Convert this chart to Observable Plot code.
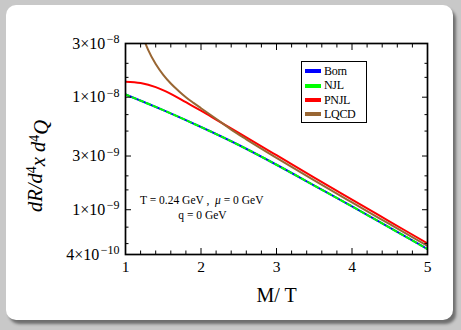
<!DOCTYPE html>
<html>
<head>
<meta charset="utf-8">
<script src="https://cdn.jsdelivr.net/npm/d3@7"></script>
<script src="https://cdn.jsdelivr.net/npm/@observablehq/plot@0.6"></script>
<style>
  body { margin: 0; background: #c8c8c8; }
  #wrap { position: relative; width: 461px; height: 330px; overflow: hidden; }
  #card { position: absolute; left: 6px; top: 5px; width: 447px; height: 315px; background: #fff;
          border-radius: 10px; box-shadow: 3px 4px 3px rgba(0,0,0,0.45); }
  #chart { position: absolute; left: 0; top: 0; }
  #legend { position: absolute; left: 301px; top: 61px; width: 66px; height: 62px; box-sizing: border-box;
            border: 1px solid #000; background: #fff; font-family: "Liberation Serif", serif; font-size: 12px; }
  .li { position: absolute; left: 3px; height: 14px; line-height: 14px; white-space: nowrap; letter-spacing: -0.3px; }
  .sw { display: inline-block; width: 16px; height: 4px; vertical-align: middle; margin-right: 3px; position: relative; top: -1px; }
</style>
</head>
<body>
<div id="wrap">
  <div id="card"></div>
  <div id="chart"></div>
  <div id="legend"></div>
</div>
<script>
// ---- data ----
const seriesNames = ["Born", "NJL", "PNJL", "LQCD"];
const seriesColors = ["#0000ff", "#00ff00", "#ff0000", "#996633"];

const bornM = [1, 1.5, 2, 2.5, 3, 3.5, 4, 4.5, 5];
const bornR = [1.057e-8, 7.67e-9, 5.43e-9, 3.76e-9, 2.51e-9, 1.64e-9, 1.07e-9, 6.92e-10, 4.47e-10];

const njlM = [1, 1.5, 2, 2.5, 3, 3.5, 4, 4.5, 5];
const njlR = [1.057e-8, 7.67e-9, 5.43e-9, 3.76e-9, 2.51e-9, 1.64e-9, 1.07e-9, 6.92e-10, 4.47e-10];

const pnjlM = [1, 1.2, 1.4, 1.6, 1.8, 2, 2.25, 2.5, 3, 3.5, 4, 4.5, 5];
const pnjlR = [1.371e-8, 1.334e-8, 1.23e-8, 1.072e-8, 9.02e-9, 7.59e-9, 6.03e-9, 4.81e-9, 3.05e-9, 1.93e-9, 1.23e-9, 7.85e-10, 5.01e-10];

const lqcdM = [1, 1.1, 1.2, 1.3, 1.4, 1.5, 1.6, 1.7, 1.8, 1.9, 2, 2.2, 2.4, 2.6, 3, 3.5, 4, 4.5, 5];
const lqcdR = [1.81e-7, 7.28e-8, 3.99e-8, 2.63e-8, 1.97e-8, 1.58e-8, 1.324e-8, 1.143e-8, 1.0e-8, 8.91e-9,
               7.98e-9, 6.43e-9, 5.15e-9, 4.22e-9, 2.89e-9, 1.82e-9, 1.16e-9, 7.43e-10, 4.76e-10];

const xMajor = [1, 2, 3, 4, 5];
const xMinor = [1.2, 1.4, 1.6, 1.8, 2.2, 2.4, 2.6, 2.8, 3.2, 3.4, 3.6, 3.8, 4.2, 4.4, 4.6, 4.8];
const yMajor = [4e-10, 1e-9, 3e-9, 1e-8, 3e-8];
const yMajorMant = ["4", "1", "3", "1", "3"];
const yMajorExp = ["10", "9", "9", "8", "8"];
const yMinor = [5e-10, 7e-10, 1.5e-9, 2e-9, 5e-9, 7e-9, 1.5e-8, 2e-8];

const xTitle = "M/ T";
const yTitle = "dR/d4x d4Q";
const annotText = ["T = 0.24 GeV ,\u00a0\u00a0\u03bc = 0 GeV", "q = 0 GeV"];
const annotM = [2.01, 2.02];
const annotR = [1.21e-9, 8.9e-10];

// ---- tables ----
const mk = (M, R) => M.map((m, i) => ({m, r: R[i]}));
const born = mk(bornM, bornR), njl = mk(njlM, njlR), pnjl = mk(pnjlM, pnjlR), lqcd = mk(lqcdM, lqcdR);
const annot = annotText.map((t, i) => ({t, m: annotM[i], r: annotR[i]}));
const yTicks = yMajor.map((v, i) => ({v, mant: yMajorMant[i], exp: yMajorExp[i]}));

const lineOpts = (color, extra = {}) => ({x: "m", y: "r", stroke: color, strokeWidth: 2, curve: "monotone-x", clip: true, ...extra});

const svg = Plot.plot({
  width: 461, height: 330,
  marginLeft: 125, marginRight: 34, marginTop: 43, marginBottom: 76,
  style: {background: "transparent", fontFamily: "Liberation Serif, serif", overflow: "visible"},
  x: {domain: [1, 5], label: null, axis: null},
  y: {type: "log", domain: [4e-10, 3e-8], label: null, axis: null},
  marks: [
    Plot.line(born, lineOpts(seriesColors[0])),
    Plot.line(njl, lineOpts(seriesColors[1], {strokeDasharray: "4,3.5"})),
    Plot.line(pnjl, lineOpts(seriesColors[2])),
    Plot.line(lqcd, lineOpts(seriesColors[3])),
    // inward ticks
    Plot.axisX(xMajor, {anchor: "bottom", tickSize: 6, dy: -6, tickFormat: () => "", label: null}),
    Plot.axisX(xMinor, {anchor: "bottom", tickSize: 3.5, dy: -3.5, tickFormat: () => "", label: null}),
    Plot.axisX(xMajor, {anchor: "top", tickSize: 6, dy: 6, tickFormat: () => "", label: null}),
    Plot.axisX(xMinor, {anchor: "top", tickSize: 3.5, dy: 3.5, tickFormat: () => "", label: null}),
    Plot.axisY(yMajor, {anchor: "left", tickSize: 6, dx: 6, tickFormat: () => "", label: null}),
    Plot.axisY(yMinor, {anchor: "left", tickSize: 3.5, dx: 3.5, tickFormat: () => "", label: null}),
    Plot.axisY(yMajor, {anchor: "right", tickSize: 6, dx: -6, tickFormat: () => "", label: null}),
    Plot.axisY(yMinor, {anchor: "right", tickSize: 3.5, dx: -3.5, tickFormat: () => "", label: null}),
    // tick labels
    Plot.text(xMajor, {x: d => d, text: d => String(d), frameAnchor: "bottom", lineAnchor: "top", textAnchor: "middle", dy: 6, fontSize: 15.5}),
    Plot.text(yTicks, {y: "v", text: d => d.mant + "×10|" + d.exp, frameAnchor: "left", textAnchor: "end", lineAnchor: "middle", dx: -6, fontSize: 16}),
    Plot.frame({stroke: "#000", strokeWidth: 1.7}),
    Plot.text([xTitle], {text: d => d, frameAnchor: "bottom", lineAnchor: "middle", textAnchor: "middle", dy: 41, fontSize: 20}),
    Plot.text([yTitle], {text: d => d, frameAnchor: "left", lineAnchor: "middle", textAnchor: "middle", rotate: -90, dx: -90, dy: 17, fontSize: 20.5, fontStyle: "italic"}),
    Plot.text(annot, {x: "m", y: "r", text: "t", fontSize: 11.5, lineAnchor: "middle", textAnchor: "middle"})
  ]
});

// post-process text elements by content
d3.select(svg).selectAll("text").each(function() {
  const s = this.textContent;
  const t = d3.select(this);
  if (s.indexOf("|") >= 0) {
    const k = s.indexOf("|");
    t.text(s.slice(0, k));
    t.append("tspan").attr("dx", "1.5").attr("dy", "-0.45em").attr("font-size", "12px").text("\u2212" + s.slice(k + 1));
  } else if (s === yTitle) {
    t.text("");
    t.append("tspan").text("dR/d");
    t.append("tspan").attr("dy", "-0.45em").attr("font-size", "14px").attr("font-style", "normal").text("4");
    t.append("tspan").attr("dy", "0.45em").text("x\u00a0d");
    t.append("tspan").attr("dy", "-0.45em").attr("font-size", "14px").attr("font-style", "normal").text("4");
    t.append("tspan").attr("dy", "0.45em").text("Q");
  } else if (s.indexOf("\u03bc") >= 0) {
    const k = s.indexOf("\u03bc");
    t.text(s.slice(0, k));
    t.append("tspan").attr("font-style", "italic").text("\u03bc");
    t.append("tspan").text(s.slice(k + 1));
  }
});

document.getElementById("chart").appendChild(svg);

// legend
const leg = document.getElementById("legend");
seriesNames.forEach((n, i) => {
  const d = document.createElement("div");
  d.className = "li";
  d.style.top = (2 + i * 14.3) + "px";
  d.innerHTML = `<span class="sw" style="background:${seriesColors[i]}"></span>${n}`;
  leg.appendChild(d);
});
</script>
</body>
</html>
